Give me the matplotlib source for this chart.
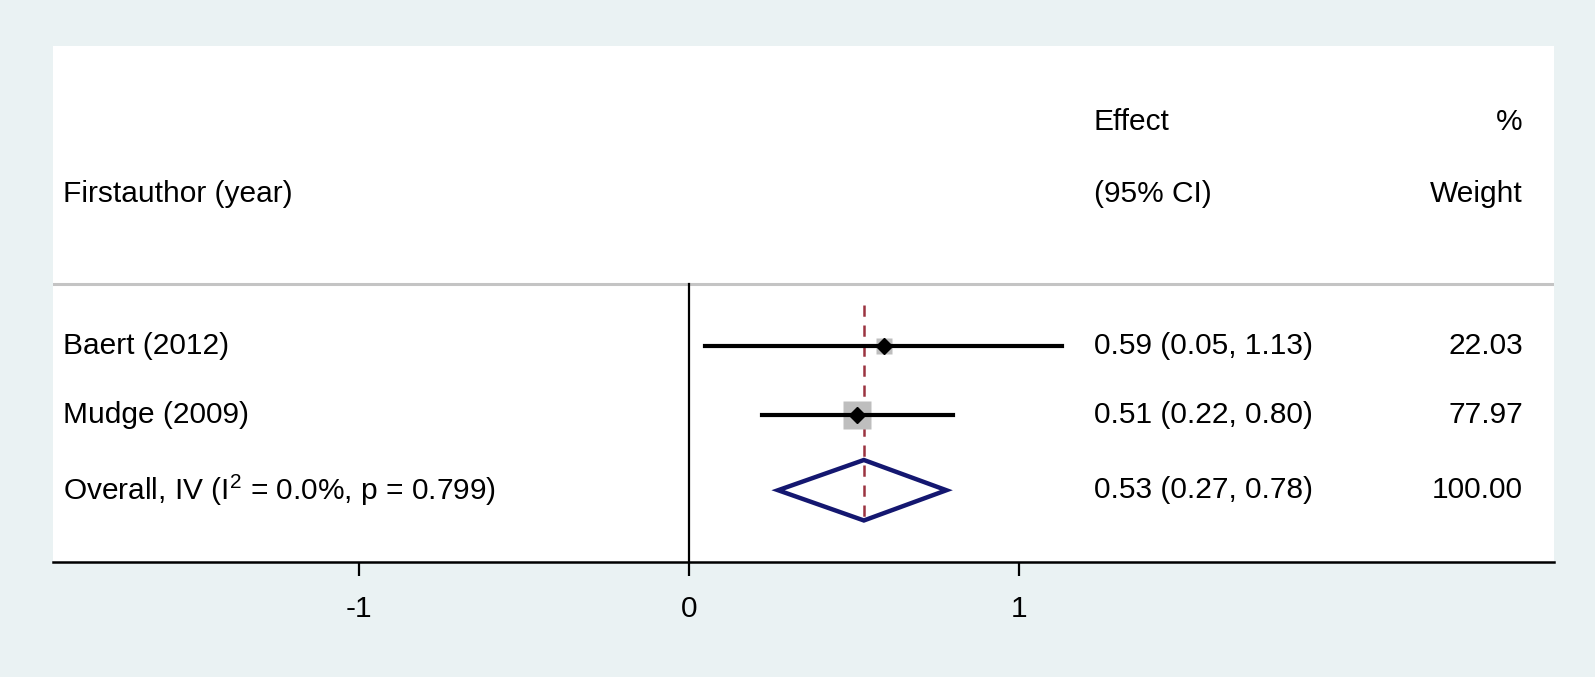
import matplotlib
matplotlib.use("Agg")
import matplotlib.pyplot as plt
import matplotlib.transforms as mtransforms

plt.rcParams['font.family'] = ['Liberation Sans', 'DejaVu Sans']
plt.rcParams['mathtext.fontset'] = 'custom'
plt.rcParams['mathtext.rm'] = 'Liberation Sans'
plt.rcParams['mathtext.it'] = 'Liberation Sans'

# study data
studies = ["Baert (2012)", "Mudge (2009)"]
effects = [0.59, 0.51]
lower = [0.05, 0.22]
upper = [1.13, 0.80]
weights = [22.03, 77.97]

overall_label = r"Overall, IV ($\mathregular{I^{2}}$ = 0.0%, p = 0.799)"
overall_effect = 0.53
overall_lower = 0.27
overall_upper = 0.78
overall_weight = 100.00

xticks = [-1, 0, 1]

fig = plt.figure(figsize=(15.95, 6.77), dpi=100)
fig.patch.set_facecolor("#EAF2F3")
ax = fig.add_axes([0.0332, 0.1706, 0.9411, 0.7614])
ax.set_facecolor("white")

ax.set_xlim(-1.927, 2.621)
ax.set_ylim(4.02, -3.14)

fs = 21.5
trans = mtransforms.blended_transform_factory(ax.transAxes, ax.transData)

# header
ax.text(0.0067, -1.08, "Firstauthor (year)", transform=trans, fontsize=fs, va="center", ha="left")
ax.text(0.6935, -2.09, "Effect", transform=trans, fontsize=fs, va="center", ha="left")
ax.text(0.6935, -1.08, "(95% CI)", transform=trans, fontsize=fs, va="center", ha="left")
ax.text(0.9793, -2.09, "%", transform=trans, fontsize=fs, va="center", ha="right")
ax.text(0.9793, -1.08, "Weight", transform=trans, fontsize=fs, va="center", ha="right")
ax.axhline(0.17, color="#C4C4C4", lw=2.2)

# zero line and overall line
ax.plot([0, 0], [0.17, 4.02], color="black", lw=1.6)
ax.plot([overall_effect, overall_effect], [0.46, 3.46], color="#9B3340", lw=1.8,
        ls=(0, (4.5, 3.5)), zorder=2)

rows = [1.02, 1.99]
for i, y in enumerate(rows):
    side = 26 * (weights[i] / weights[1]) ** 0.5
    ax.plot(effects[i], y, marker="s", ms=side * 0.8, color="#BEBEBE", mec="none", zorder=3)
    ax.plot([lower[i], upper[i]], [y, y], color="black", lw=3, zorder=4)
    ax.plot(effects[i], y, marker="D", ms=8.5, color="black", zorder=5)
    ax.text(0.0067, y, studies[i], transform=trans, fontsize=fs, va="center", ha="left")
    ax.text(0.6935, y, "%.2f (%.2f, %.2f)" % (effects[i], lower[i], upper[i]),
            transform=trans, fontsize=fs, va="center", ha="left")
    ax.text(0.9793, y, "%.2f" % weights[i], transform=trans, fontsize=fs, va="center", ha="right")

# overall diamond
yo = 3.03
h = 0.42
ax.fill([overall_lower, overall_effect, overall_upper, overall_effect, overall_lower],
        [yo, yo - h, yo, yo + h, yo], facecolor="none", edgecolor="#141770", lw=3.2, zorder=4)
ax.text(0.0067, yo, overall_label, transform=trans, fontsize=fs, va="center", ha="left")
ax.text(0.6935, yo, "%.2f (%.2f, %.2f)" % (overall_effect, overall_lower, overall_upper),
        transform=trans, fontsize=fs, va="center", ha="left")
ax.text(0.9793, yo, "%.2f" % overall_weight, transform=trans, fontsize=fs, va="center", ha="right")

for s in ["top", "left", "right"]:
    ax.spines[s].set_visible(False)
ax.spines["bottom"].set_linewidth(1.8)
ax.set_yticks([])
ax.set_xticks(xticks)
ax.set_xticklabels([str(t) for t in xticks])
ax.tick_params(axis="x", length=10, width=1.6, labelsize=fs, pad=14)

fig.savefig("out.png", dpi=100, facecolor=fig.get_facecolor())
